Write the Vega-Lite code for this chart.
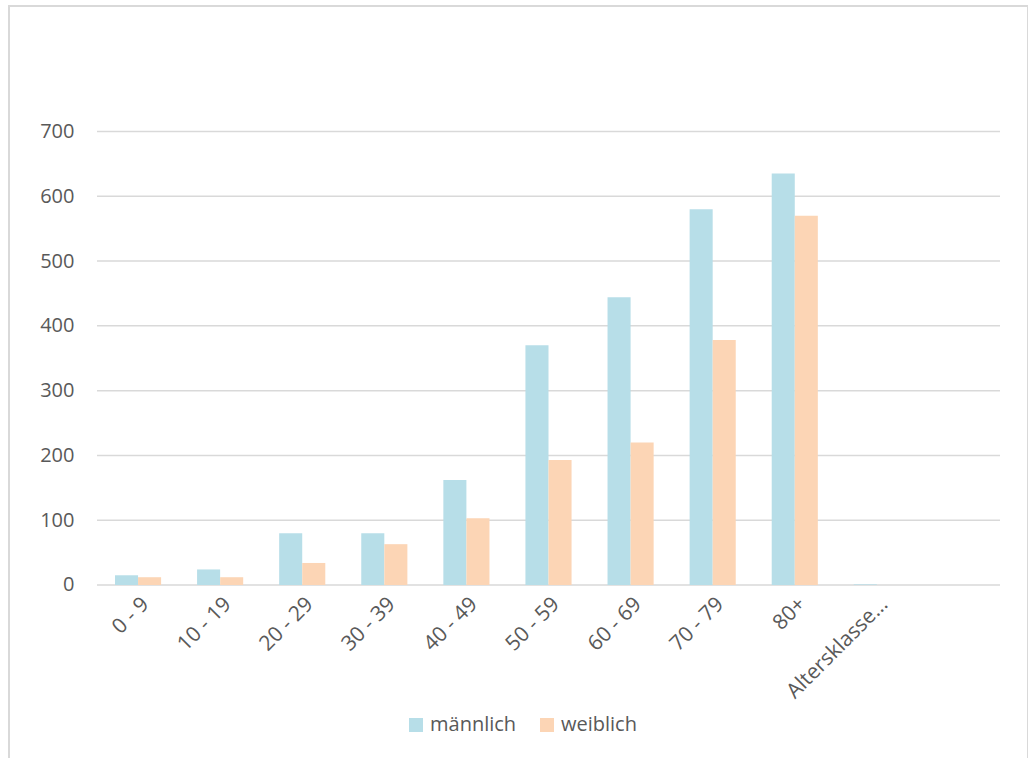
{
  "$schema": "https://vega.github.io/schema/vega-lite/v6.json",
  "width": 1019,
  "height": 760,
  "autosize": {"type": "none"},
  "padding": {"left": 9, "top": 6, "right": 0, "bottom": 0},
  "background": "white",
  "config": {
    "view": {"stroke": "#D9D9D9", "strokeWidth": 2},
    "font": "Open Sans",
    "axisX": {
      "title": null,
      "domain": false,
      "ticks": false,
      "tickSize": 0,
      "grid": false,
      "labelAngle": -45,
      "labelAlign": "right",
      "labelBaseline": "top",
      "labelPadding": 8,
      "labelOverlap": false,
      "labelLimit": 0,
      "offset": -181,
      "labelFont": "Open Sans",
      "labelFontSize": 21,
      "labelColor": "#595959"
    },
    "axisY": {
      "title": null,
      "grid": false,
      "domain": false,
      "ticks": false,
      "tickSize": 0,
      "labelPadding": 0,
      "offset": -65,
      "labelFont": "Open Sans",
      "labelFontSize": 20,
      "labelColor": "#595959"
    }
  },
  "datasets": {
    "counts": [
      {"Altersklasse": "0 - 9", "Geschlecht": "männlich", "Anzahl": 15},
      {"Altersklasse": "0 - 9", "Geschlecht": "weiblich", "Anzahl": 12},
      {"Altersklasse": "10 - 19", "Geschlecht": "männlich", "Anzahl": 24},
      {"Altersklasse": "10 - 19", "Geschlecht": "weiblich", "Anzahl": 12},
      {"Altersklasse": "20 - 29", "Geschlecht": "männlich", "Anzahl": 80},
      {"Altersklasse": "20 - 29", "Geschlecht": "weiblich", "Anzahl": 34},
      {"Altersklasse": "30 - 39", "Geschlecht": "männlich", "Anzahl": 80},
      {"Altersklasse": "30 - 39", "Geschlecht": "weiblich", "Anzahl": 63},
      {"Altersklasse": "40 - 49", "Geschlecht": "männlich", "Anzahl": 162},
      {"Altersklasse": "40 - 49", "Geschlecht": "weiblich", "Anzahl": 103},
      {"Altersklasse": "50 - 59", "Geschlecht": "männlich", "Anzahl": 370},
      {"Altersklasse": "50 - 59", "Geschlecht": "weiblich", "Anzahl": 193},
      {"Altersklasse": "60 - 69", "Geschlecht": "männlich", "Anzahl": 444},
      {"Altersklasse": "60 - 69", "Geschlecht": "weiblich", "Anzahl": 220},
      {"Altersklasse": "70 - 79", "Geschlecht": "männlich", "Anzahl": 580},
      {"Altersklasse": "70 - 79", "Geschlecht": "weiblich", "Anzahl": 378},
      {"Altersklasse": "80+", "Geschlecht": "männlich", "Anzahl": 635},
      {"Altersklasse": "80+", "Geschlecht": "weiblich", "Anzahl": 570},
      {"Altersklasse": "Altersklasse...", "Geschlecht": "männlich", "Anzahl": 1},
      {"Altersklasse": "Altersklasse...", "Geschlecht": "weiblich", "Anzahl": 0}
    ],
    "grid": [
      {"v": 0}, {"v": 100}, {"v": 200}, {"v": 300},
      {"v": 400}, {"v": 500}, {"v": 600}, {"v": 700}
    ]
  },
  "layer": [
    {
      "data": {"name": "grid"},
      "mark": {"type": "rule", "color": "#D9D9D9", "strokeWidth": 1.5},
      "encoding": {
        "x": {
          "datum": "0 - 9",
          "type": "nominal",
          "bandPosition": 0,
          "scale": {
            "domain": ["0 - 9", "10 - 19", "20 - 29", "30 - 39", "40 - 49", "50 - 59", "60 - 69", "70 - 79", "80+", "Altersklasse...", " "],
            "paddingInner": 0,
            "paddingOuter": 0.7066,
            "align": 0.7586
          }
        },
        "x2": {"datum": " ", "bandPosition": 1},
        "y": {
          "field": "v",
          "type": "quantitative",
          "scale": {"domain": [-279.4, 893.7], "nice": false, "zero": false},
          "axis": {"values": [0, 100, 200, 300, 400, 500, 600, 700]}
        }
      }
    },
    {
      "data": {"name": "counts"},
      "mark": {"type": "bar"},
      "encoding": {
        "x": {
          "field": "Altersklasse",
          "type": "nominal",
          "scale": {
            "domain": ["0 - 9", "10 - 19", "20 - 29", "30 - 39", "40 - 49", "50 - 59", "60 - 69", "70 - 79", "80+", "Altersklasse...", " "],
            "paddingInner": 0,
            "paddingOuter": 0.7066,
            "align": 0.7586
          }
        },
        "xOffset": {
          "field": "Geschlecht",
          "type": "nominal",
          "scale": {"domain": ["männlich", "weiblich"], "paddingInner": 0, "paddingOuter": 0.78}
        },
        "y": {
          "field": "Anzahl",
          "type": "quantitative",
          "stack": null,
          "scale": {"domain": [-279.4, 893.7], "nice": false, "zero": false},
          "axis": {"values": [0, 100, 200, 300, 400, 500, 600, 700]}
        },
        "color": {
          "field": "Geschlecht",
          "type": "nominal",
          "scale": {"domain": ["männlich", "weiblich"], "range": ["#B7DEE8", "#FCD5B5"]},
          "legend": {
            "orient": "none",
            "legendX": 397,
            "legendY": 709,
            "direction": "horizontal",
            "title": null,
            "symbolType": "square",
            "symbolSize": 196,
            "symbolStrokeWidth": 0,
            "symbolOpacity": 1,
            "labelFont": "Open Sans",
            "labelFontSize": 20,
            "labelColor": "#595959",
            "labelOffset": 4,
            "columnPadding": 20
          }
        }
      }
    }
  ]
}
